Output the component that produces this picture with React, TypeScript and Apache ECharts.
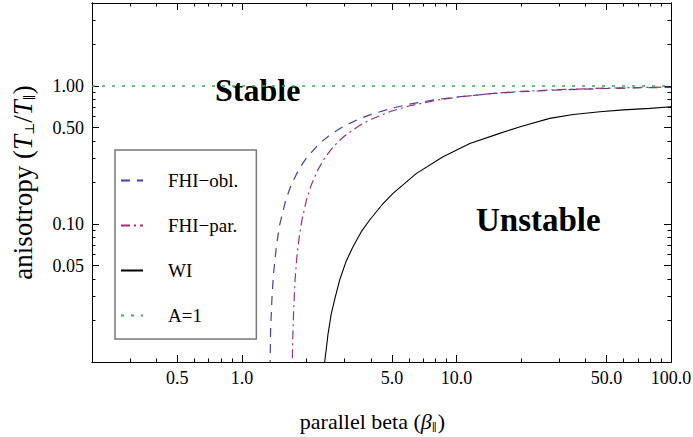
import React, { useEffect, useRef } from "react";
import * as echarts from "echarts";

// ---- tick data ----
const xMajorTicks = [0.5, 1, 5, 10, 50, 100];
const xTickLabels = ["0.5", "1.0", "5.0", "10.0", "50.0", "100.0"];
const xMinorTicks = [0.3, 0.4, 0.6, 0.7, 0.8, 0.9, 2, 3, 4, 6, 7, 8, 9, 20, 30, 40, 60, 70, 80, 90];
const yMajorTicks = [0.05, 0.1, 0.5, 1];
const yTickLabels = ["0.05", "0.10", "0.50", "1.00"];
const yMinorTicks = [0.02, 0.03, 0.04, 0.06, 0.07, 0.08, 0.09, 0.2, 0.3, 0.4, 0.6, 0.7, 0.8, 0.9, 2, 3];

// ---- series data ----
const seriesNames = ["FHI−obl.", "FHI−par.", "WI", "A=1"];

const fhiOblBeta = [1.34, 1.36, 1.38, 1.4, 1.45, 1.5, 1.6, 1.7, 1.85, 2.0, 2.3, 2.6, 3.0, 3.5, 4.0, 5.0, 6.0, 8.0, 10, 15, 20, 30, 50, 70, 100];
const fhiOblA = [0.004, 0.017, 0.029, 0.042, 0.071, 0.099, 0.149, 0.194, 0.252, 0.302, 0.384, 0.448, 0.514, 0.576, 0.623, 0.691, 0.738, 0.797, 0.833, 0.884, 0.91, 0.937, 0.96, 0.971, 0.979];

const fhiParBeta = [1.705, 1.72, 1.74, 1.77, 1.8, 1.85, 1.9, 2.0, 2.1, 2.25, 2.4, 2.6, 2.8, 3.0, 3.5, 4.0, 5.0, 6.0, 8.0, 10, 15, 20, 30, 50, 70, 100];
const fhiParA = [0.003, 0.012, 0.023, 0.04, 0.056, 0.081, 0.105, 0.15, 0.19, 0.244, 0.292, 0.346, 0.393, 0.433, 0.514, 0.575, 0.66, 0.717, 0.788, 0.83, 0.887, 0.915, 0.943, 0.966, 0.976, 0.983];

const wiBeta = [2.38, 2.43, 2.52, 2.61, 2.73, 2.854, 3.05, 3.293, 3.6, 3.94, 4.5, 5.06, 6.51, 8.66, 11.54, 15.9, 20, 27.2, 35, 46.6, 60, 79.8, 100];
const wiA = [0.005, 0.01, 0.016, 0.0225, 0.03, 0.0393, 0.053, 0.0685, 0.088, 0.107, 0.138, 0.167, 0.233, 0.307, 0.384, 0.454, 0.51, 0.583, 0.622, 0.652, 0.672, 0.689, 0.708];

const isoBeta = [0.2, 100];
const isoA = [1, 1];

const FONT = "'Liberation Serif', 'DejaVu Serif', serif";

function pair(xs: number[], ys: number[]) {
  return xs.map((x, i) => [x, ys[i]]);
}

function lookup(ticks: number[], labels: string[], v: number) {
  for (let i = 0; i < ticks.length; i++) {
    if (Math.abs(ticks[i] - v) / ticks[i] < 1e-6) return labels[i];
  }
  return "";
}

function xAxisDef(position: string, ticks: number[], len: number, labels: boolean, extra: any = {}) {
  return {
    type: "log",
    logBase: 10,
    min: 0.2,
    max: 100,
    position,
    splitLine: { show: false },
    axisLine: { show: true, onZero: false, lineStyle: { color: "#000", width: 1 } },
    axisTick: { show: true, inside: true, length: len, customValues: ticks, lineStyle: { color: "#000", width: 1 } },
    axisLabel: labels
      ? {
          show: true,
          customValues: xMajorTicks,
          formatter: (v: number) => lookup(xMajorTicks, xTickLabels, v),
          margin: 7,
          fontSize: 18,
          fontFamily: FONT,
          color: "#000",
        }
      : { show: false },
    ...extra,
  };
}

function yAxisDef(position: string, ticks: number[], len: number, labels: boolean, extra: any = {}) {
  return {
    type: "log",
    logBase: 10,
    min: 0.01,
    max: 4,
    position,
    splitLine: { show: false },
    axisLine: { show: true, onZero: false, lineStyle: { color: "#000", width: 1 } },
    axisTick: { show: true, inside: true, length: len, customValues: ticks, lineStyle: { color: "#000", width: 1 } },
    axisLabel: labels
      ? {
          show: true,
          customValues: yMajorTicks,
          formatter: (v: number) => lookup(yMajorTicks, yTickLabels, v),
          margin: 8,
          fontSize: 18,
          fontFamily: FONT,
          color: "#000",
        }
      : { show: false },
    ...extra,
  };
}

export default function App() {
  const ref = useRef<HTMLDivElement>(null);

  useEffect(() => {
    if (!ref.current) return;
    const chart = echarts.init(ref.current, undefined, { renderer: "svg" });

    const option: any = {
      animation: false,
      backgroundColor: "#fff",
      textStyle: { fontFamily: FONT },
      grid: { left: 92, top: 3, right: 22, bottom: 75, containLabel: false, outerBoundsMode: "none" },
      xAxis: [
        xAxisDef("bottom", xMajorTicks, 7, true, {
          name: "parallel beta ({b|β}{s|∥})",
          nameLocation: "middle",
          nameGap: 48,
          nameTextStyle: {
            fontSize: 22,
            fontFamily: FONT,
            color: "#000",
            padding: [0, 18, 0, 0],
            rich: {
              b: { fontSize: 22, fontStyle: "italic", fontFamily: FONT, color: "#000" },
              s: { fontSize: 11, fontFamily: FONT, color: "#000", verticalAlign: "bottom", padding: [0, 1, 0, 0] },
            },
          },
        }),
        xAxisDef("top", xMajorTicks, 7, false),
        xAxisDef("bottom", xMinorTicks, 3.5, false),
        xAxisDef("top", xMinorTicks, 3.5, false),
      ],
      yAxis: [
        yAxisDef("left", yMajorTicks, 7, true, {
          name: "anisotropy ({t|T}{s|⊥}/{t|T}{s|∥})",
          nameLocation: "middle",
          nameGap: 56,
          nameRotate: 90,
          nameTextStyle: {
            fontSize: 27,
            fontFamily: FONT,
            color: "#000",
            rich: {
              t: { fontSize: 27, fontStyle: "italic", fontFamily: FONT, color: "#000" },
              s: { fontSize: 13, fontFamily: FONT, color: "#000", verticalAlign: "bottom" },
            },
          },
        }),
        yAxisDef("right", yMajorTicks, 7, false),
        yAxisDef("left", yMinorTicks, 3.5, false),
        yAxisDef("right", yMinorTicks, 3.5, false),
      ],
      legend: {
        data: seriesNames,
        orient: "vertical",
        left: 115,
        top: 150,
        itemWidth: 22,
        itemHeight: 14,
        itemGap: 26,
        padding: [21, 18, 14, 5],
        backgroundColor: "#fff",
        borderColor: "#777",
        borderWidth: 1.5,
        borderRadius: 0,
        selectedMode: false,
        itemStyle: { opacity: 0, borderWidth: 0 },
        textStyle: { fontSize: 19, fontFamily: FONT, color: "#000", padding: [0, 0, 0, 20] },
      },
      graphic: [
        {
          type: "text",
          left: 215,
          top: 74,
          style: { text: "Stable", font: "bold 32px " + FONT, fill: "#000" },
        },
        {
          type: "text",
          left: 476,
          top: 203,
          style: { text: "Unstable", font: "bold 33px " + FONT, fill: "#000" },
        },
      ],
      series: [
        {
          name: seriesNames[0],
          type: "line",
          xAxisIndex: 0,
          yAxisIndex: 0,
          data: pair(fhiOblBeta, fhiOblA),
          showSymbol: false,
          symbol: "none",
          clip: true,
          lineStyle: { color: "#4040a8", width: 1.2, type: [9, 7] },
          itemStyle: { color: "#4040a8" },
        },
        {
          name: seriesNames[1],
          type: "line",
          xAxisIndex: 0,
          yAxisIndex: 0,
          data: pair(fhiParBeta, fhiParA),
          showSymbol: false,
          symbol: "none",
          clip: true,
          lineStyle: { color: "#a2306e", width: 1.2, type: [9, 4, 2, 4] },
          itemStyle: { color: "#a2306e" },
        },
        {
          name: seriesNames[2],
          type: "line",
          xAxisIndex: 0,
          yAxisIndex: 0,
          data: pair(wiBeta, wiA),
          showSymbol: false,
          symbol: "none",
          clip: true,
          lineStyle: { color: "#000", width: 1.1, type: "solid" },
          itemStyle: { color: "#000" },
        },
        {
          name: seriesNames[3],
          type: "line",
          xAxisIndex: 0,
          yAxisIndex: 0,
          data: pair(isoBeta, isoA),
          showSymbol: false,
          symbol: "none",
          clip: true,
          lineStyle: { color: "#3daa55", width: 1.4, type: [3, 7] },
          itemStyle: { color: "#3daa55" },
        },
      ],
    };

    chart.setOption(option);
    return () => chart.dispose();
  }, []);

  return (
    <div
      ref={ref}
      style={{ position: "absolute", left: 0, top: 0, width: 693, height: 437, background: "#fff" }}
    />
  );
}
